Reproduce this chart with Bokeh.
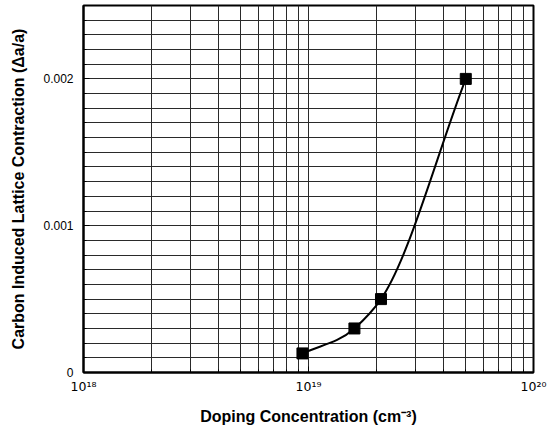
import numpy as np
from bokeh.plotting import figure
from bokeh.models import FixedTicker, Range1d
from bokeh.embed import file_html
from bokeh.resources import INLINE

# ---- data ----
doping = [9.4e18, 1.6e19, 2.1e19, 5.0e19]          # cm^-3
contraction = [0.00013, 0.0003, 0.0005, 0.002]     # delta a / a

x_major = [1e18, 1e19, 1e20]
x_labels = ["10¹⁸", "10¹⁹", "10²⁰"]
y_major = [0, 0.001, 0.002]
y_labels = ["0", "0.001", "0.002"]
x_lim = (1e18, 1e20)
y_lim = (0, 0.0025)

x_minor = [m * 10.0 ** e for e in (18, 19) for m in range(2, 10)]
y_minor = [i * 0.0001 for i in range(0, 26)]

FONT = "Liberation Sans"

p = figure(x_axis_type="log",
           x_range=Range1d(*x_lim), y_range=Range1d(*y_lim),
           frame_width=450, frame_height=367,
           min_border_left=83, min_border_right=15,
           min_border_top=5, min_border_bottom=58,
           output_backend="svg", toolbar_location=None)

p.background_fill_color = "white"
p.border_fill_color = "white"
p.outline_line_color = "black"
p.outline_line_width = 2

p.xaxis.ticker = FixedTicker(ticks=x_major, minor_ticks=x_minor)
p.yaxis.ticker = FixedTicker(ticks=y_major, minor_ticks=y_minor)
p.xaxis.major_label_overrides = dict(zip(x_major, x_labels))
p.yaxis.major_label_overrides = dict(zip(y_major, y_labels))

for ax in (p.xaxis, p.yaxis):
    ax.axis_line_color = "black"
    ax.axis_line_width = 2
    ax.major_tick_in = 6
    ax.major_tick_out = 0
    ax.minor_tick_in = 3
    ax.minor_tick_out = 0
    ax.major_tick_line_color = "black"
    ax.minor_tick_line_color = "black"
    ax.major_label_text_font = FONT
    ax.major_label_text_font_size = "12px"
    ax.major_label_text_color = "black"
    ax.axis_label_text_font = FONT
    ax.axis_label_text_font_style = "bold"
    ax.axis_label_text_color = "black"
    ax.axis_label_text_font_size = "16px"

p.xaxis.major_label_text_font = "DejaVu Sans"
p.xaxis.major_label_text_font_size = "12.5px"
p.yaxis.major_label_standoff = 10
p.yaxis.axis_label_standoff = 13
p.xaxis.major_label_standoff = 6
p.xaxis.axis_label_standoff = 11

p.xaxis.axis_label = "Doping Concentration (cm⁻³)"
p.yaxis.axis_label = "Carbon Induced Lattice Contraction (Δa/a)"

for g in (p.xgrid, p.ygrid):
    g.grid_line_color = "#2a2a2a"
    g.grid_line_width = 1
    g.minor_grid_line_color = "#2a2a2a"
    g.minor_grid_line_width = 1

# smooth curve through the points: cubic Hermite in (log10 x, y),
# tangents from three-point estimates, end tangents = end secants
lx = np.log10(np.array(doping))
yy = np.array(contraction)
h = np.diff(lx)
d = np.diff(yy) / h
m = np.empty_like(yy)
m[0] = d[0]
m[-1] = d[-1]
m[1:-1] = (h[:-1] * d[1:] + h[1:] * d[:-1]) / (h[:-1] + h[1:])

c1x = lx[:-1] + h / 3
c1y = yy[:-1] + m[:-1] * h / 3
c2x = lx[1:] - h / 3
c2y = yy[1:] - m[1:] * h / 3

p.bezier(x0=10 ** lx[:-1], y0=yy[:-1], x1=10 ** lx[1:], y1=yy[1:],
         cx0=10 ** c1x, cy0=c1y, cx1=10 ** c2x, cy1=c2y,
         line_color="black", line_width=2)

p.scatter(doping, contraction, marker="square", size=11,
          fill_color="black", line_color="black")

open("out.html", "w").write(file_html(p, INLINE))
